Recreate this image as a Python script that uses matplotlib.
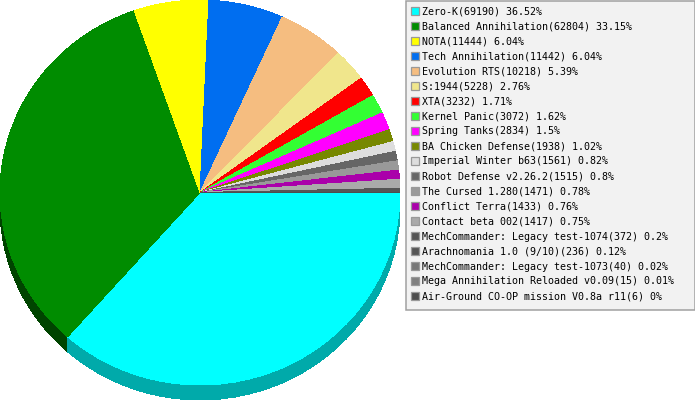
import matplotlib
matplotlib.use('Agg')
import matplotlib.pyplot as plt
from matplotlib.patches import Rectangle

names = ['Zero-K', 'Balanced Annihilation', 'NOTA', 'Tech Annihilation', 'Evolution RTS',
         'S:1944', 'XTA', 'Kernel Panic', 'Spring Tanks', 'BA Chicken Defense',
         'Imperial Winter b63', 'Robot Defense v2.26.2', 'The Cursed 1.280', 'Conflict Terra',
         'Contact beta 002', 'MechCommander: Legacy test-1074', 'Arachnomania 1.0 (9/10)',
         'MechCommander: Legacy test-1073', 'Mega Annihilation Reloaded v0.09',
         'Air-Ground CO-OP mission V0.8a r11']
counts = [69190, 62804, 11444, 11442, 10218, 5228, 3232, 3072, 2834, 1938,
          1561, 1515, 1471, 1433, 1417, 372, 236, 40, 15, 6]
percents = ['36.52', '33.15', '6.04', '6.04', '5.39', '2.76', '1.71', '1.62', '1.5', '1.02',
            '0.82', '0.8', '0.78', '0.76', '0.75', '0.2', '0.12', '0.02', '0.01', '0']
colors = ['#00FFFF', '#008C00', '#FFFF00', '#006EF0', '#F5BD80', '#F0E68C', '#FF0000', '#33FF33',
          '#FF00FF', '#778800', '#DDDDDD', '#666666', '#999999', '#AA00AA', '#AAAAAA',
          '#555555', '#555555', '#777777', '#808080', '#4D4D4D']
shadow_colors = ['#00AAAA', '#004400', '#AAAA00', '#0049A0', '#A37E55', '#A0995D', '#AA0000', '#22AA22',
                 '#AA00AA', '#4F5A00', '#939393', '#444444', '#666666', '#710071', '#717171',
                 '#393939', '#393939', '#4F4F4F', '#555555', '#333333']

W, H = 695, 400
cx, cy, rx, ry, depth = 200, 192.5, 200, 192.5, 15

fig = plt.figure(figsize=(W / 100, H / 100), dpi=100)

# Pie in an axes where 1 unit = rx pixels across and ry pixels down
pie_ax = fig.add_axes([0, 0, 1, 1])
for d in range(depth, -1, -1):
    wedges, _ = pie_ax.pie(counts, colors=shadow_colors if d > 0 else colors, startangle=0,
                           counterclock=False, center=(0, -d / ry), radius=1)
    for w in wedges:
        w.set_antialiased(False)
pie_ax.set_aspect('auto')
pie_ax.set_xlim(-cx / rx, (W - cx) / rx)
pie_ax.set_ylim(-(H - cy) / ry, cy / ry)
pie_ax.axis('off')

# Legend box, pixel coordinates
leg_ax = fig.add_axes([0, 0, 1, 1])
leg_ax.set_xlim(0, W)
leg_ax.set_ylim(H, 0)
leg_ax.axis('off')
leg_ax.patch.set_alpha(0)
leg_ax.add_patch(Rectangle((405.5, 0.5), 289, 309, facecolor='#F2F2F2', edgecolor='#A0A0A0', linewidth=1.1))

for i in range(len(names)):
    y = 11.5 + i * 15
    leg_ax.add_patch(Rectangle((410.5, y - 4.5), 8, 8, facecolor=colors[i], edgecolor='#999999', linewidth=0.9))
    leg_ax.text(422, y, f'{names[i]}({counts[i]}) {percents[i]}%', family='DejaVu Sans Mono',
                fontsize=7.2, va='center', ha='left', color='black')

fig.savefig('out.png', dpi=100, facecolor='white')
